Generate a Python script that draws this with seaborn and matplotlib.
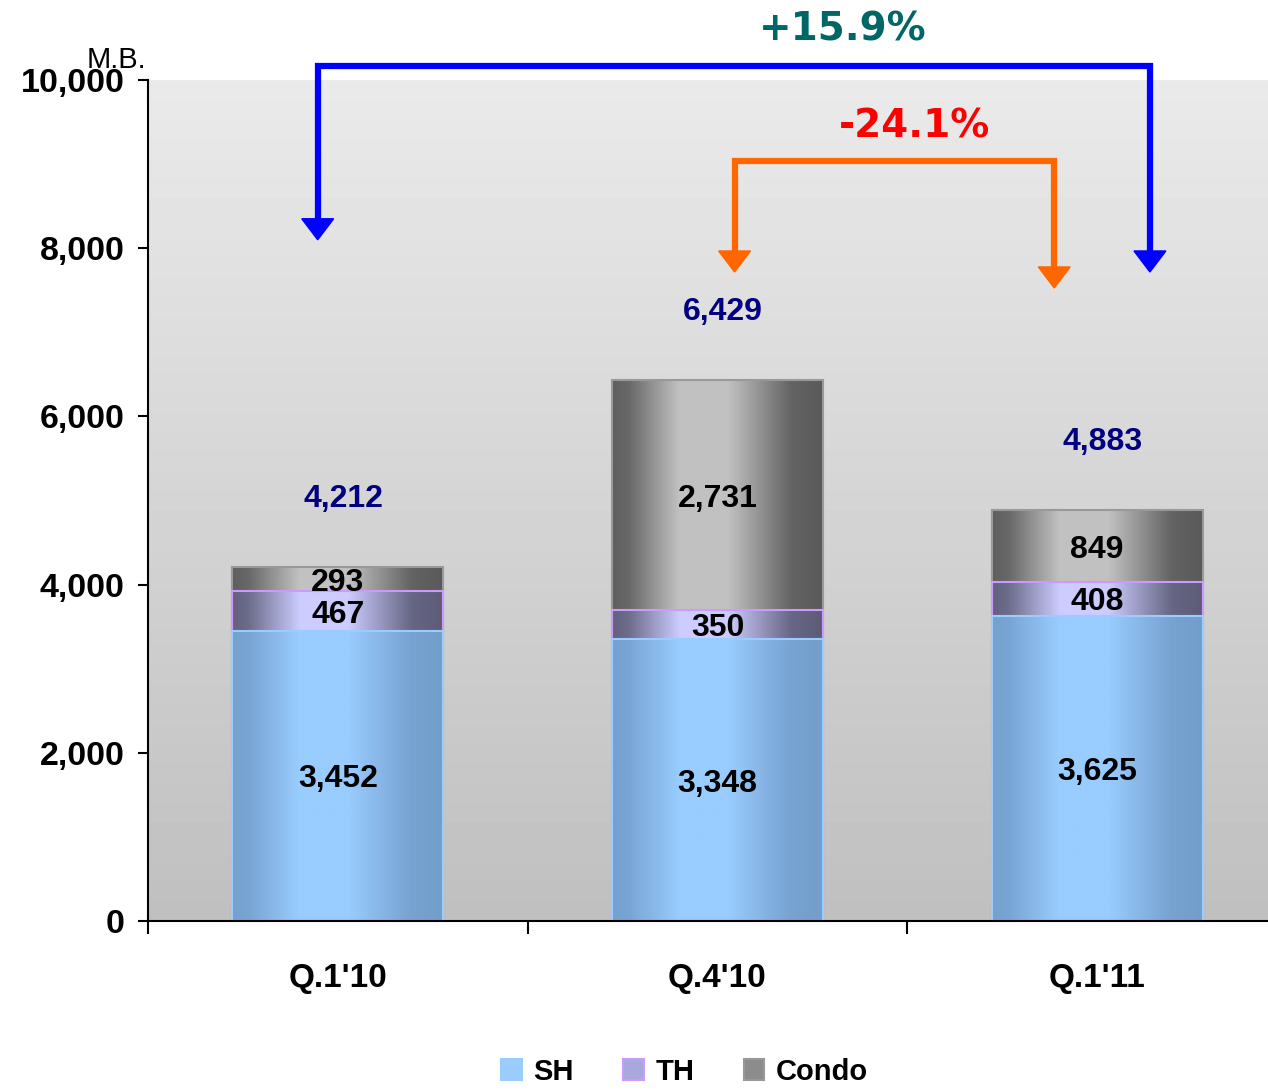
import numpy as np
import pandas as pd
import seaborn as sns
import matplotlib.pyplot as plt
from matplotlib.patches import Patch

# chart values
quarters = ["Q.1'10", "Q.4'10", "Q.1'11"]
sh = [3452, 3348, 3625]
th = [467, 350, 408]
condo = [293, 2731, 849]
totals = [4212, 6429, 4883]
series = ["SH", "TH", "Condo"]
growth_yoy = "+15.9%"
growth_qoq = "-24.1%"

# (dark edge rgb, light centre rgb, outline)
styles = {
    "SH": ((0.45, 0.62, 0.80), (0.60, 0.80, 1.00), "#99ccff"),
    "TH": ((0.36, 0.36, 0.47), (0.80, 0.80, 1.00), "#cc99ff"),
    "Condo": ((0.35, 0.35, 0.35), (0.76, 0.76, 0.76), "#999999"),
}

sns.set_style("white")
plt.rcParams["font.family"] = ["Liberation Sans", "DejaVu Sans"]
plt.rcParams["text.color"] = "black"
plt.rcParams["xtick.color"] = "black"
plt.rcParams["ytick.color"] = "black"
lbl_font = dict(fontsize=23, fontweight="bold", family="Liberation Sans")

df = pd.DataFrame({"quarter": quarters, "SH": sh, "TH": th, "Condo": condo})
df["cum_th"] = df["SH"] + df["TH"]
df["cum_condo"] = df["cum_th"] + df["Condo"]

fig = plt.figure(figsize=(12.68, 10.9), dpi=100)
ax = fig.add_axes([148 / 1268, 1 - 921 / 1090, 1 - 148 / 1268, (921 - 80) / 1090])

bw = 0.555
# stacked bars drawn as cumulative layers, tallest first
layers = [("Condo", "cum_condo"), ("TH", "cum_th"), ("SH", "SH")]
for name, col in layers:
    sns.barplot(data=df, x="quarter", y=col, order=quarters, width=bw, ax=ax,
                color=styles[name][1], linewidth=1.5, edgecolor=styles[name][2],
                saturation=1)

# cylinder-like horizontal gradient on every bar layer
t = np.linspace(0, 1, 256)
prof = np.interp(t, [0, 0.08, 0.32, 0.55, 0.85, 1.0], [0.05, 0.15, 1.0, 1.0, 0.1, 0.0])
for k, (name, col) in enumerate(layers):
    dark, light, _ = styles[name]
    img = np.array(dark)[None, :] + (np.array(light) - np.array(dark))[None, :] * prof[:, None]
    img = img[None, :, :]
    for p in ax.patches[k * 3:(k + 1) * 3]:
        x0, y0, w, h = p.get_x(), p.get_y(), p.get_width(), p.get_height()
        im = ax.imshow(img, extent=[x0, x0 + w, y0, y0 + h], aspect="auto",
                       zorder=1 + k * 0.1, interpolation="bilinear")
        im.set_clip_path(p)
        p.set_facecolor("none")
        p.set_zorder(2)

# background gradient
bg = np.linspace(0.918, 0.75, 256)[:, None]
ax.imshow(bg, extent=[-0.5, 2.45, 0, 10000], aspect="auto", cmap="gray",
          vmin=0, vmax=1, zorder=0)

ax.set_xlim(-0.5, 2.45)
ax.set_ylim(0, 10000)

# segment labels and totals
for i in range(len(quarters)):
    ax.text(i, sh[i] / 2, f"{sh[i]:,}", ha="center", va="center_baseline", zorder=5, **lbl_font)
    ax.text(i, sh[i] + th[i] / 2, f"{th[i]:,}", ha="center", va="center_baseline",
            zorder=5, **lbl_font)
    ax.text(i, sh[i] + th[i] + condo[i] / 2, f"{condo[i]:,}", ha="center",
            va="center_baseline", zorder=5, **lbl_font)
    ax.text(i + 0.015, totals[i] + 850, f"{totals[i]:,}", ha="center", va="center_baseline",
            color="#000080", zorder=5, **lbl_font)


def bracket(x1, x2, y_top, tip1, tip2, color):
    head_w, head_h = 0.042, 250
    ax.plot([x1, x1, x2, x2], [tip1 + head_h, y_top, y_top, tip2 + head_h],
            color=color, lw=4.5, solid_joinstyle="miter", clip_on=False, zorder=6)
    for x, tip in [(x1, tip1), (x2, tip2)]:
        ax.fill([x - head_w, x + head_w, x], [tip + head_h, tip + head_h, tip],
                color=color, clip_on=False, zorder=6)


bracket(0 - 0.053, 2 + 0.139, 10166, 8100, 7717, "#0000ff")
bracket(1 + 0.045, 2 - 0.113, 9037, 7717, 7527, "#ff6600")
ax.text(1.33, 10650, growth_yoy, ha="center", va="center_baseline", fontsize=28,
        fontweight="bold", family="DejaVu Sans", color="#006666", clip_on=False)
ax.text(1.52, 9500, growth_qoq, ha="center", va="center_baseline", fontsize=28,
        fontweight="bold", family="DejaVu Sans", color="#ff0000", clip_on=False)

# axes styling
ax.set_xlabel("")
ax.set_ylabel("")
ax.set_yticks(range(0, 10001, 2000))
ax.set_yticklabels([f"{v:,}" for v in range(0, 10001, 2000)])
ax.set_xticks([-0.5, 0.5, 1.5], minor=True)
ax.tick_params(axis="y", labelsize=24.5, length=7, width=1.5, pad=10, direction="out", left=True)
ax.tick_params(axis="x", which="major", labelsize=24, length=0, pad=30)
ax.tick_params(axis="x", which="minor", length=9, width=1.5, direction="out", bottom=True)
for lbl in ax.get_xticklabels() + ax.get_yticklabels():
    lbl.set_fontweight("bold")
for side in ["top", "right"]:
    ax.spines[side].set_visible(False)
for side in ["left", "bottom"]:
    ax.spines[side].set_color("black")
    ax.spines[side].set_linewidth(1.5)
    ax.spines[side].set_zorder(7)

fig.text(87 / 1268, 1 - 68 / 1090, "M.B.", fontsize=21, ha="left", va="baseline")

handles = [Patch(facecolor=styles[s][1], edgecolor=styles[s][2], linewidth=1.5) for s in series]
handles[1].set_facecolor("#a8a8dc")
handles[2].set_facecolor("#8c8c8c")
leg = fig.legend(handles, series, loc="lower center", bbox_to_anchor=(0.54, -0.02),
                 ncol=3, frameon=False, handlelength=0.7, handleheight=0.7,
                 handletextpad=0.4, columnspacing=1.7,
                 prop={"size": 21, "weight": "bold"})

fig.savefig("out.png", dpi=100)
